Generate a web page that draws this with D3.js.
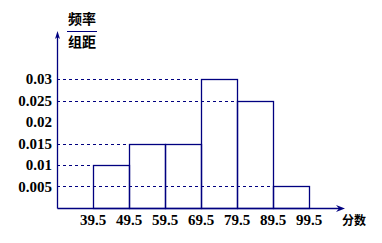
<!DOCTYPE html>
<html>
<head>
<meta charset="utf-8">
<script src="https://cdn.jsdelivr.net/npm/d3@7"></script>
<style>
  html, body { margin: 0; padding: 0; background: #fff; }
  svg text { font-family: "Liberation Serif", serif; font-weight: bold; fill: #000; }
  svg text.cjk { font-family: "Noto Sans CJK SC", sans-serif; }
</style>
</head>
<body>
<div id="chart" style="width:382px;height:243px;"></div>
<script>
// class boundaries (scores) and frequency/width per class
const edges = [39.5, 49.5, 59.5, 69.5, 79.5, 89.5, 99.5];
const densities = [0.01, 0.015, 0.015, 0.03, 0.025, 0.005];
const yTickValues = [0.005, 0.01, 0.015, 0.02, 0.025, 0.03];
const yTickLabels = ['0.005', '0.01', '0.015', '0.02', '0.025', '0.03'];
const xTickLabels = ['39.5', '49.5', '59.5', '69.5', '79.5', '89.5', '99.5'];
// which levels get a dashed guide line to the bar
const guideValues = [0.005, 0.01, 0.015, 0.025, 0.03];

const navy = '#000080';

function Histogram(_){

  const _w = 382, _h = 243;

  const x = d3.scaleLinear().domain([29.5, 99.5]).range([57, 309]);
  const y = d3.scaleLinear().domain([0, 0.03]).range([208, 79]);

  const svg = d3.select(_).append('svg')
    .attr('width', _w)
    .attr('height', _h);

  const bins = densities.map((d, i) => ({x0: edges[i], x1: edges[i + 1], v: d}));

  // dashed guides: from y axis to the left edge of the first bar reaching that height
  const guides = guideValues.map(v => {
    const hit = bins.filter(b => Math.abs(b.v - v) < 1e-9);
    return {v: v, x1: hit[0].x0};
  });

  svg.selectAll('.guide')
    .data(guides)
    .enter().append('line')
    .attr('class', 'guide')
    .attr('x1', x(29.5))
    .attr('x2', d => x(d.x1))
    .attr('y1', d => Math.round(y(d.v)) + 0.5)
    .attr('y2', d => Math.round(y(d.v)) + 0.5)
    .style('stroke', navy)
    .style('stroke-width', 1)
    .style('stroke-dasharray', '3,3');

  // bars
  svg.selectAll('.bar')
    .data(bins)
    .enter().append('rect')
    .attr('class', 'bar')
    .attr('x', d => Math.round(x(d.x0)) + 0.5)
    .attr('y', d => Math.round(y(d.v)) + 0.5)
    .attr('width', d => Math.round(x(d.x1)) - Math.round(x(d.x0)))
    .attr('height', d => Math.round(y(0)) - Math.round(y(d.v)))
    .style('fill', 'none')
    .style('stroke', navy)
    .style('stroke-width', 1.3);

  // axes
  const x0 = Math.round(x(29.5)) + 0.5;
  const y0 = Math.round(y(0)) + 0.5;

  svg.append('line')
    .attr('x1', x0).attr('x2', 340)
    .attr('y1', y0).attr('y2', y0)
    .style('stroke', navy).style('stroke-width', 1.3);
  svg.append('line')
    .attr('x1', x0).attr('x2', x0)
    .attr('y1', y0).attr('y2', 36)
    .style('stroke', navy).style('stroke-width', 1.3);

  // arrow heads
  svg.append('path')
    .attr('d', `M345,${y0} L336,${y0 - 3.5} L339,${y0} L336,${y0 + 3.5} Z`)
    .style('fill', navy);
  svg.append('path')
    .attr('d', `M${x0},31 L${x0 - 2.5},39 L${x0},37 L${x0 + 2.5},39 Z`)
    .style('fill', navy);

  // y tick labels
  svg.selectAll('.ylab')
    .data(yTickValues)
    .enter().append('text')
    .attr('class', 'ylab')
    .attr('x', 52)
    .attr('y', d => y(d) + 5)
    .attr('text-anchor', 'end')
    .style('font-size', '15px')
    .text((d, i) => yTickLabels[i]);

  // x tick labels
  svg.selectAll('.xlab')
    .data(edges)
    .enter().append('text')
    .attr('class', 'xlab')
    .attr('x', d => x(d))
    .attr('y', 225)
    .attr('text-anchor', 'middle')
    .style('font-size', '15px')
    .text((d, i) => xTickLabels[i]);

  // axis titles
  svg.append('text')
    .attr('class', 'cjk')
    .attr('x', 82).attr('y', 24)
    .attr('text-anchor', 'middle')
    .style('font-size', '14px')
    .text('频率');
  svg.append('line')
    .attr('x1', 67).attr('x2', 97)
    .attr('y1', 31.5).attr('y2', 31.5)
    .style('stroke', navy).style('stroke-width', 1);
  svg.append('text')
    .attr('class', 'cjk')
    .attr('x', 82).attr('y', 47)
    .attr('text-anchor', 'middle')
    .style('font-size', '14px')
    .text('组距');
  svg.append('text')
    .attr('class', 'cjk')
    .attr('x', 354).attr('y', 225)
    .attr('text-anchor', 'middle')
    .style('font-size', '12px')
    .text('分数');
}

Histogram(document.getElementById('chart'));
</script>
</body>
</html>
